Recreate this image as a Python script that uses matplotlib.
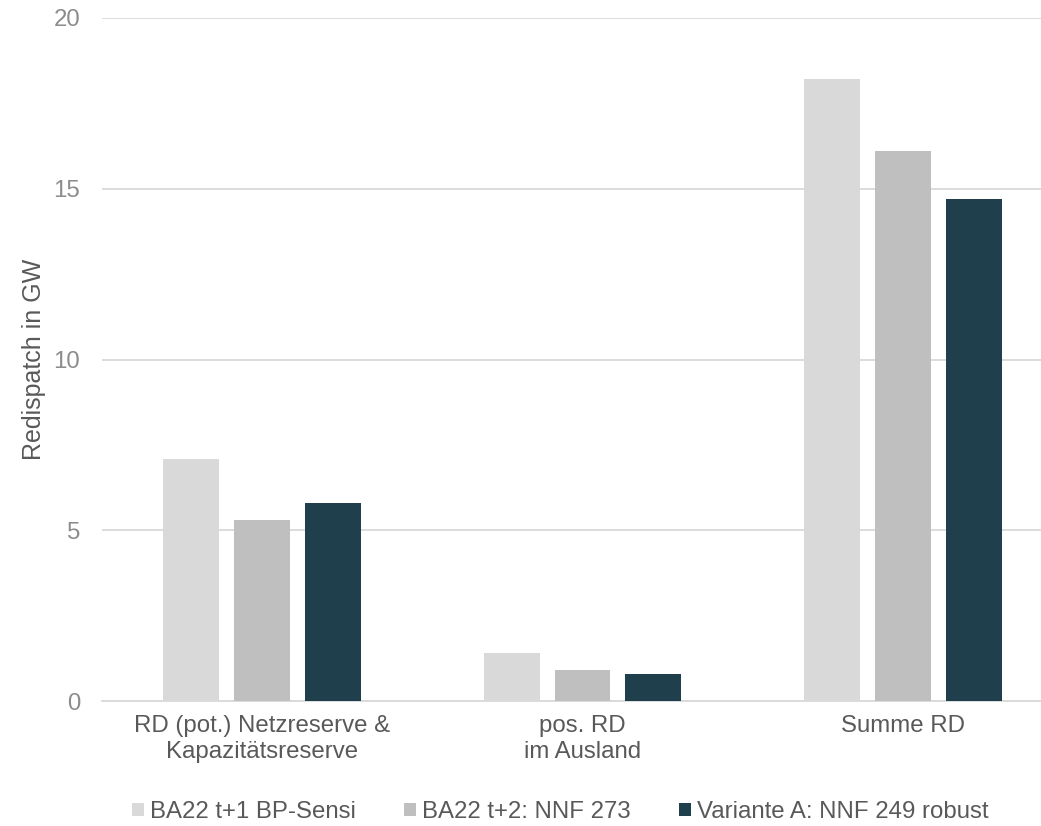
import matplotlib
matplotlib.use("Agg")
import matplotlib.pyplot as plt
from matplotlib.patches import Patch
import numpy as np

plt.rcParams['font.family'] = ['Liberation Sans', 'DejaVu Sans']

categories = ["RD (pot.) Netzreserve &\nKapazitätsreserve", "pos. RD\nim Ausland", "Summe RD"]
series_names = ["BA22 t+1 BP-Sensi", "BA22 t+2: NNF 273", "Variante A: NNF 249 robust"]
s1 = [7.1, 1.4, 18.2]
s2 = [5.3, 0.9, 16.1]
s3 = [5.8, 0.8, 14.7]
colors = ["#d9d9d9", "#bfbfbf", "#203f4c"]
yticks = [0, 5, 10, 15, 20]

FS = 17.3
W, H = 1041, 826
fig = plt.figure(figsize=(W/100, H/100), dpi=100)
left, right, top, bottom = 102, 1041, 18, 701
ax = fig.add_axes([left/W, 1 - bottom/H, (right-left)/W, (bottom-top)/H])

x = np.arange(len(categories))
bw = 56/320.5
off = 71/320.5
for i, (vals, c) in enumerate(zip([s1, s2, s3], colors)):
    ax.bar(x + (i-1)*off, vals, width=bw, color=c, zorder=3, label=series_names[i])

ax.set_xlim(-0.5, 2.5 - 22/320.5)
ax.set_ylim(0, 20)
ax.set_yticks(yticks)
ax.set_yticklabels([str(t) for t in yticks], fontsize=FS, color="#8c8c8c")
ax.grid(axis='y', color="#d9d9d9", linewidth=1.3, zorder=0)
for s in ['top', 'right', 'left']:
    ax.spines[s].set_visible(False)
ax.spines['bottom'].set_color("#d9d9d9")
ax.spines['bottom'].set_linewidth(1.3)
ax.tick_params(axis='y', length=0, pad=15.8)
ax.tick_params(axis='x', length=0, pad=10)
ax.set_xticks(x)
ax.set_xticklabels(categories, fontsize=FS, color="#595959", linespacing=1.25)
ax.set_ylabel("Redispatch in GW", fontsize=18, color="#595959", labelpad=5)

handles = [Patch(facecolor=c, edgecolor='none') for c in colors]
fig.legend(handles, series_names, loc='center', bbox_to_anchor=(560/W, 1 - 812/H),
           ncol=3, frameon=False, fontsize=FS, handlelength=0.5, handleheight=0.5,
           handletextpad=0.25, columnspacing=2.0, labelcolor="#595959",
           borderpad=0, borderaxespad=0)

fig.savefig("out.png", dpi=100)
